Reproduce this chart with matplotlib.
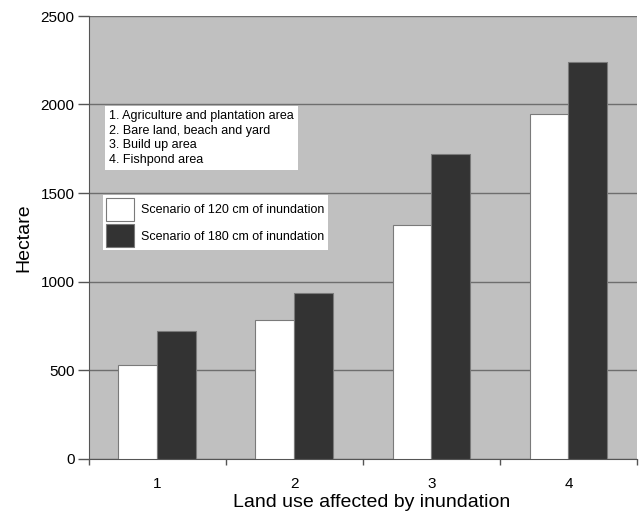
import matplotlib
matplotlib.use("Agg")
import matplotlib.pyplot as plt
import numpy as np

plt.rcParams['font.family'] = ['Liberation Sans', 'DejaVu Sans']

categories = ["1", "2", "3", "4"]
scenario_120 = [530, 780, 1320, 1945]
scenario_180 = [718, 935, 1718, 2242]
series_labels = ["Scenario of 120 cm of inundation", "Scenario of 180 cm of inundation"]
category_notes = ["1. Agriculture and plantation area",
                  "2. Bare land, beach and yard",
                  "3. Build up area",
                  "4. Fishpond area"]
yticks = [0, 500, 1000, 1500, 2000, 2500]

W, H = 640, 511
fig = plt.figure(figsize=(W / 100, H / 100), dpi=100)
ax_l, ax_r, ax_t, ax_b = 88.5, 637, 16, 458.5
ax = fig.add_axes([ax_l / W, 1 - ax_b / H, (ax_r - ax_l) / W, (ax_b - ax_t) / H])
ax.set_facecolor('#c0c0c0')

x = np.arange(len(categories))
bw = 0.283
b1 = ax.bar(x - bw / 2, scenario_120, bw, color='white', edgecolor='#7a7a7a', linewidth=0.8,
            label=series_labels[0], zorder=3)
b2 = ax.bar(x + bw / 2, scenario_180, bw, color='#333333', edgecolor='#7a7a7a', linewidth=0.8,
            label=series_labels[1], zorder=3)

ax.set_xlim(-0.5, len(categories) - 0.5)
ax.set_ylim(0, 2500)
ax.set_yticks(yticks)
ax.yaxis.grid(True, color='#6e6e6e', linewidth=1.0, zorder=1)
ax.set_axisbelow(True)

# x ticks: labels at centers, tick marks at boundaries
ax.set_xticks(x)
ax.set_xticklabels(categories)
ax.tick_params(axis='x', length=0, labelsize=11, pad=13)
ax.set_xticks(np.arange(-0.5, len(categories)), minor=True)
ax.tick_params(axis='x', which='minor', length=4, color='#555555', width=1)
ax.tick_params(axis='y', length=8, color='#555555', width=1, labelsize=11, pad=2)

for s in ['top', 'right']:
    ax.spines[s].set_visible(False)
ax.spines['left'].set_color('#555555')
ax.spines['bottom'].set_color('#555555')

def fx(px):
    return (px - ax_l) / (ax_r - ax_l)

def fy(py):
    return (ax_b - py) / (ax_b - ax_t)

ax.set_ylabel('Hectare', fontsize=14, labelpad=6)
ax.set_xlabel('Land use affected by inundation', fontsize=14)
ax.xaxis.set_label_coords(fx(372), fy(502), transform=ax.transAxes)
ax.xaxis.label.set_va('center')

# category notes box
ax.text(fx(109), fy(110), "\n".join(category_notes), transform=ax.transAxes,
        fontsize=9, va='top', ha='left', linespacing=1.3, zorder=5,
        bbox=dict(boxstyle='square,pad=0.3', fc='white', ec='none'))

leg = ax.legend(handles=[b1, b2], loc='upper left',
                bbox_to_anchor=(fx(103), fy(195)), borderaxespad=0,
                fontsize=9, handlelength=2.25, handleheight=2.45,
                labelspacing=0.26, handletextpad=0.55, borderpad=0.25,
                fancybox=False, framealpha=1, edgecolor='none', facecolor='white')
leg.set_zorder(5)

fig.savefig('out.png', dpi=100)
